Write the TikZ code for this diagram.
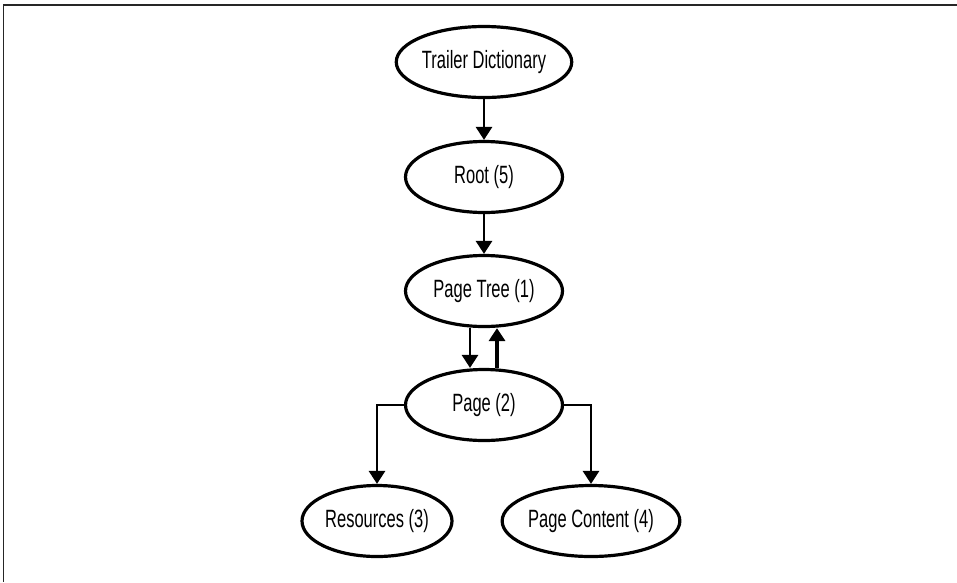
\documentclass[tikz,border=0pt]{standalone}
\usepackage{fontspec}
\setmainfont[FakeStretch=0.66]{Liberation Sans}
\usetikzlibrary{shapes.geometric,arrows.meta}
\begin{document}
\begin{tikzpicture}[x=1pt,y=-1pt,
  obj/.style={ellipse,draw,line width=3.2pt,minimum width=157pt,minimum height=71pt,inner sep=0pt,font=\fontsize{25}{28}\selectfont},
  arr/.style={line width=2.8pt,-{Triangle[width=16pt,length=13pt]}}]
\useasboundingbox (0,0) rectangle (957,582);
\draw[line width=1.6pt,color=black!85] (957,5) -- (3.5,5) -- (3.5,582);
\node[obj] (td) at (484,62) {Trailer Dictionary};
\node[obj] (root) at (484,177) {Root (5)};
\node[obj] (pt) at (484,291) {Page Tree (1)};
\node[obj] (pg) at (484,405) {Page (2)};
\node[obj,minimum width=150pt] (res) at (377,521) {Resources (3)};
\node[obj,minimum width=157pt] (pc) at (591,521) {Page Content (4)};
\draw[arr] (td) -- (root);
\draw[arr] (root) -- (pt);
\draw[arr] ([xshift=-14pt]pt.south) -- ([xshift=-14pt]pg.north);
\draw[arr,line width=3.5pt] ([xshift=13pt]pg.north) -- ([xshift=13pt]pt.south);
\draw[arr] (pg.west) -| (res.north);
\draw[arr] (pg.east) -| (pc.north);
\end{tikzpicture}
\end{document}
